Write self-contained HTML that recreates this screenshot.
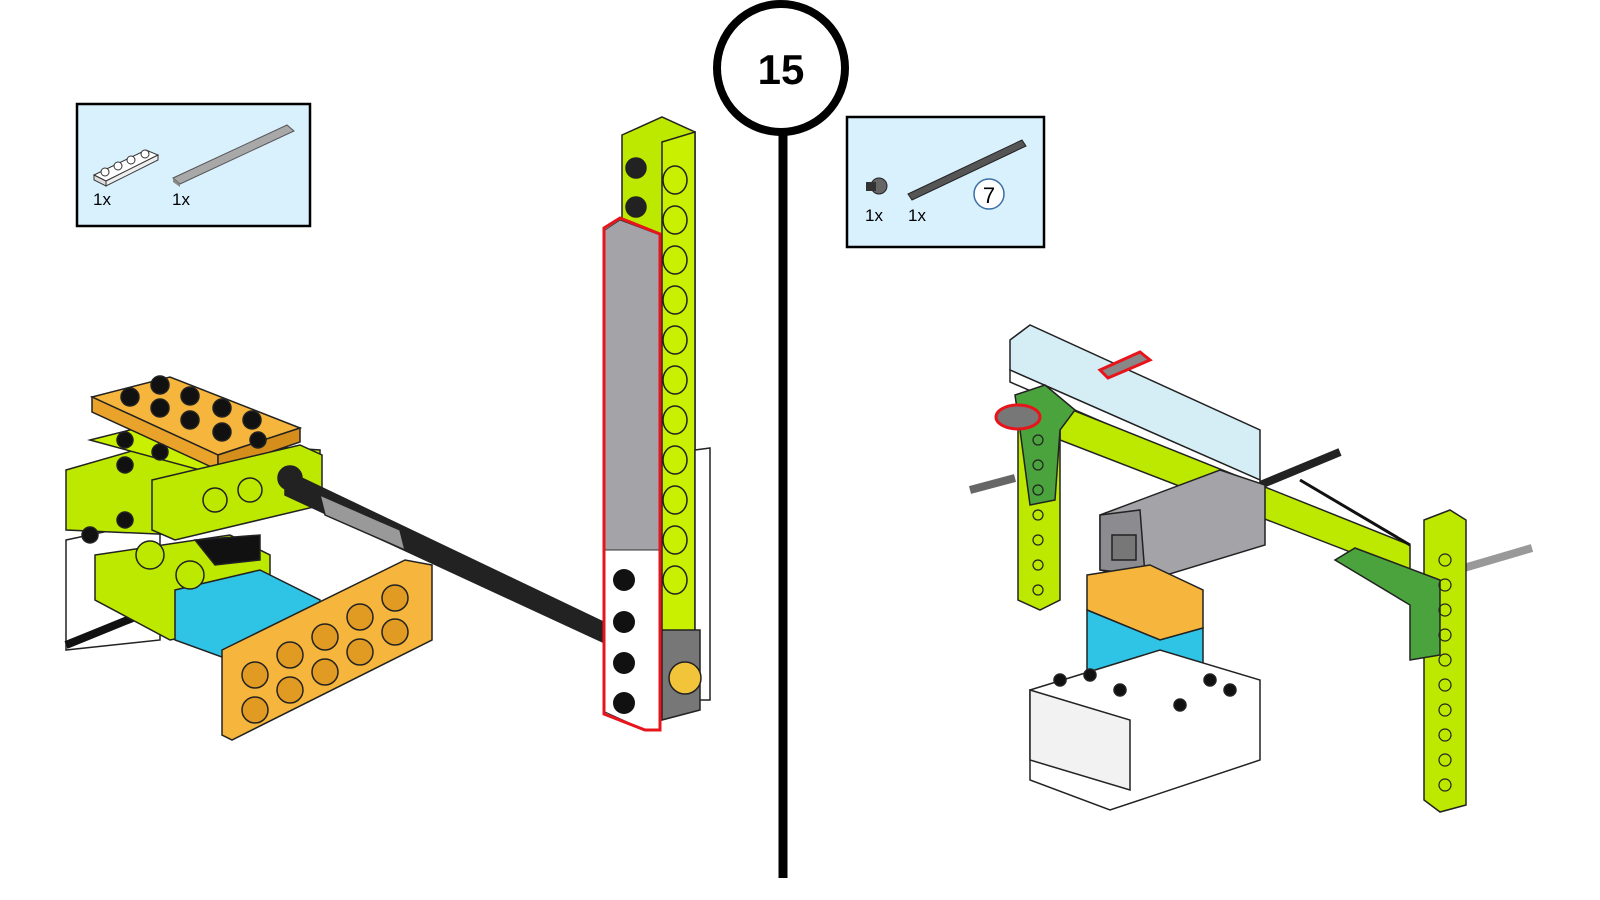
<!DOCTYPE html>
<html><head><meta charset="utf-8"><style>
html,body{margin:0;padding:0;background:#fff;width:1600px;height:900px;overflow:hidden;}
svg{display:block}
text{font-family:"Liberation Sans",sans-serif}
</style></head><body>
<svg width="1600" height="900" viewBox="0 0 1600 900" xmlns="http://www.w3.org/2000/svg">
<rect width="1600" height="900" fill="#fff"/>
<line x1="783" y1="120" x2="783" y2="878" stroke="#000" stroke-width="9"/>
<circle cx="781" cy="68" r="64" fill="#fff" stroke="#000" stroke-width="8"/>
<text x="781" y="84" font-size="42" font-weight="bold" text-anchor="middle">15</text>

<rect x="77" y="104" width="233" height="122" fill="#d9f0fd" stroke="#000" stroke-width="2.5"/>
<polygon points="94,175 146,150 158,155 106,181" fill="#fff" stroke="#333"/>
<polygon points="94,175 106,181 106,186 94,180" fill="#ddd" stroke="#333"/>
<polygon points="106,181 158,155 158,160 106,186" fill="#eee" stroke="#333"/>
<circle cx="105" cy="172" r="4" fill="#fff" stroke="#333"/><circle cx="118" cy="166" r="4" fill="#fff" stroke="#333"/>
<circle cx="131" cy="160" r="4" fill="#fff" stroke="#333"/><circle cx="145" cy="154" r="4" fill="#fff" stroke="#333"/>
<polygon points="173,178 287,125 294,131 180,184" fill="#a8a8a8" stroke="#555"/>
<polygon points="173,178 180,184 180,187 173,182" fill="#888"/>
<text x="93" y="205" font-size="17">1x</text><text x="172" y="205" font-size="17">1x</text>

<rect x="847" y="117" width="197" height="130" fill="#d9f0fd" stroke="#000" stroke-width="2.5"/>
<circle cx="879" cy="186" r="8" fill="#666" stroke="#222"/><rect x="866" y="182" width="10" height="9" fill="#333"/>
<polygon points="908,194 1022,140 1026,146 912,200" fill="#555" stroke="#222"/>
<circle cx="989" cy="194" r="15" fill="#fff" stroke="#3a6ea5" stroke-width="1.5"/>
<text x="989" y="203" font-size="22" text-anchor="middle">7</text>
<text x="865" y="221" font-size="17">1x</text><text x="908" y="221" font-size="17">1x</text>

<g stroke="#222" stroke-width="1.5">
<polygon points="66,540 160,520 160,640 66,650" fill="#fff"/>
<line x1="66" y1="645" x2="140" y2="615" stroke="#111" stroke-width="8"/>
<polygon points="66,470 170,440 320,450 320,505 180,535 66,530" fill="#bde800"/>
<polygon points="90,440 170,420 300,440 200,470" fill="#c9f000"/>
<polygon points="92,397 170,377 300,428 218,455" fill="#f6b53c"/>
<polygon points="92,397 218,455 218,470 92,412" fill="#e9a22a"/>
<polygon points="218,455 300,428 300,442 218,470" fill="#d58d1b"/>
<g fill="#111">
<circle cx="130" cy="397" r="9"/><circle cx="160" cy="385" r="9"/><circle cx="160" cy="408" r="9"/><circle cx="190" cy="396" r="9"/>
<circle cx="190" cy="420" r="9"/><circle cx="222" cy="408" r="9"/><circle cx="222" cy="432" r="9"/><circle cx="252" cy="420" r="9"/>
<circle cx="258" cy="440" r="8"/><circle cx="125" cy="440" r="8"/><circle cx="125" cy="465" r="8"/><circle cx="160" cy="452" r="8"/>
</g>
<polygon points="152,480 300,445 322,455 322,505 175,540 152,530" fill="#bde800"/>
<circle cx="215" cy="500" r="12" fill="#bde800"/><circle cx="250" cy="490" r="12" fill="#bde800"/><circle cx="290" cy="478" r="12" fill="#222"/>
<polygon points="285,470 620,630 620,650 285,495" fill="#222"/>
<polygon points="320,495 400,530 405,550 325,515" fill="#999"/>
<polygon points="95,555 230,535 270,555 270,620 170,640 95,600" fill="#bde800"/>
<polygon points="175,590 260,570 320,600 320,640 230,660 175,640" fill="#2fc4e6"/>
<polygon points="195,540 260,535 260,560 215,565" fill="#111"/>
<circle cx="150" cy="555" r="14" fill="#bde800"/><circle cx="190" cy="575" r="14" fill="#bde800"/>
<circle cx="90" cy="535" r="8" fill="#111"/><circle cx="125" cy="520" r="8" fill="#111"/>
<polygon points="222,650 405,560 432,565 432,640 232,740 222,735" fill="#f6b53c"/>
<g fill="#e19a22">
<circle cx="255" cy="710" r="13"/><circle cx="290" cy="690" r="13"/><circle cx="325" cy="672" r="13"/><circle cx="360" cy="652" r="13"/><circle cx="395" cy="632" r="13"/>
<circle cx="255" cy="675" r="13"/><circle cx="290" cy="655" r="13"/><circle cx="325" cy="637" r="13"/><circle cx="360" cy="617" r="13"/><circle cx="395" cy="598" r="13"/>
</g>
<polygon points="622,135 662,117 695,132 695,700 655,718 622,700" fill="#bde800"/>
<polygon points="662,142 695,132 695,700 662,715" fill="#c8f000"/>
<polygon points="695,450 710,448 710,700 695,700" fill="#fff"/>
<polygon points="662,630 700,630 700,710 662,720" fill="#777"/>
<circle cx="685" cy="678" r="16" fill="#f2c43a"/>
<circle cx="636" cy="168" r="10" fill="#222"/><circle cx="636" cy="207" r="10" fill="#222"/>
</g>
<g fill="none" stroke="#222" stroke-width="1.5">
<ellipse cx="675" cy="180" rx="12" ry="14"/><ellipse cx="675" cy="220" rx="12" ry="14"/><ellipse cx="675" cy="260" rx="12" ry="14"/><ellipse cx="675" cy="300" rx="12" ry="14"/>
<ellipse cx="675" cy="340" rx="12" ry="14"/><ellipse cx="675" cy="380" rx="12" ry="14"/><ellipse cx="675" cy="420" rx="12" ry="14"/><ellipse cx="675" cy="460" rx="12" ry="14"/>
<ellipse cx="675" cy="500" rx="12" ry="14"/><ellipse cx="675" cy="540" rx="12" ry="14"/><ellipse cx="675" cy="580" rx="12" ry="14"/>
</g>
<polygon points="605,230 620,220 660,235 660,550 605,550" fill="#a3a3a8" stroke="#333"/>
<polygon points="605,550 660,550 660,730 645,730 605,712" fill="#fff" stroke="#333"/>
<g fill="#111"><circle cx="624" cy="580" r="11"/><circle cx="624" cy="622" r="11"/><circle cx="624" cy="663" r="11"/><circle cx="624" cy="703" r="11"/></g>
<polygon points="604,228 620,218 660,234 660,730 645,730 604,714" fill="none" stroke="#e8141b" stroke-width="3"/>

<g stroke="#222" stroke-width="1.5">
<line x1="1200" y1="510" x2="1340" y2="452" stroke="#222" stroke-width="8"/>
<line x1="1440" y1="575" x2="1532" y2="548" stroke="#999" stroke-width="8"/>
<polygon points="1010,340 1030,325 1260,430 1260,480 1010,370" fill="#d5eef5"/>
<polygon points="1010,370 1260,480 1260,490 1010,382" fill="#fff"/>
<polygon points="1060,405 1410,545 1410,575 1060,440" fill="#bde800"/>
<polygon points="1018,400 1040,390 1060,400 1060,600 1040,610 1018,600" fill="#bde800"/>
<polygon points="1015,395 1045,385 1075,410 1060,430 1055,500 1030,505 1020,430" fill="#4aa33c"/>
<line x1="970" y1="490" x2="1015" y2="478" stroke="#666" stroke-width="8"/>
<polygon points="1100,515 1220,470 1265,485 1265,545 1150,580 1100,570" fill="#a4a4a8"/>
<polygon points="1100,515 1140,510 1145,575 1100,570" fill="#8c8c90"/>
<rect x="1112" y="535" width="24" height="25" fill="#777"/>
<polygon points="1087,575 1150,565 1203,590 1203,628 1160,640 1087,610" fill="#f6b53c"/>
<polygon points="1087,610 1160,640 1203,628 1203,690 1160,700 1087,670" fill="#2fc4e6"/>
<polygon points="1030,690 1160,650 1260,680 1260,760 1110,810 1030,780" fill="#fff"/>
<polygon points="1030,690 1130,720 1130,790 1030,760" fill="#f2f2f2"/>
<g fill="#111"><circle cx="1060" cy="680" r="6"/><circle cx="1090" cy="675" r="6"/><circle cx="1120" cy="690" r="6"/><circle cx="1210" cy="680" r="6"/><circle cx="1230" cy="690" r="6"/><circle cx="1180" cy="705" r="6"/></g>
<polygon points="1424,520 1450,510 1466,520 1466,805 1440,812 1424,800" fill="#bde800"/>
<polygon points="1335,560 1355,548 1440,580 1440,655 1410,660 1410,605" fill="#4aa33c"/>
<line x1="1300" y1="480" x2="1410" y2="545" stroke="#111" stroke-width="3"/>
</g>
<g fill="none" stroke="#222" stroke-width="1.2">
<circle cx="1445" cy="560" r="6"/><circle cx="1445" cy="585" r="6"/><circle cx="1445" cy="610" r="6"/><circle cx="1445" cy="635" r="6"/>
<circle cx="1445" cy="660" r="6"/><circle cx="1445" cy="685" r="6"/><circle cx="1445" cy="710" r="6"/><circle cx="1445" cy="735" r="6"/><circle cx="1445" cy="760" r="6"/><circle cx="1445" cy="785" r="6"/>
<circle cx="1038" cy="440" r="5"/><circle cx="1038" cy="465" r="5"/><circle cx="1038" cy="490" r="5"/><circle cx="1038" cy="515" r="5"/><circle cx="1038" cy="540" r="5"/><circle cx="1038" cy="565" r="5"/><circle cx="1038" cy="590" r="5"/>
</g>
<polygon points="1100,370 1140,352 1150,360 1108,378" fill="#888" stroke="#e8141b" stroke-width="3"/>
<ellipse cx="1018" cy="417" rx="22" ry="12" fill="#777" stroke="#e8141b" stroke-width="3"/>
</svg>
</body></html>
